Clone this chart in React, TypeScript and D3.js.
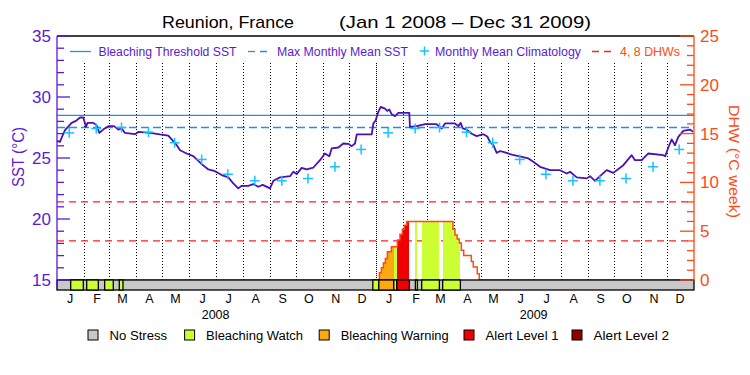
import React from "react";
import * as d3 from "d3";

// days counted from Jan 1 2008
const sstDays = [
  0, 3.4, 5.7, 9.2, 16.8, 21.8, 26.4, 30.2, 33.3, 35, 41.7, 45.5, 48.6, 53, 58.9, 65.4, 70.4, 74.2, 78,
  89.5, 93.3, 106.7, 118.2, 127.7, 131.6, 137.4, 141.2, 148.8, 156.4, 166, 173.7, 181.3, 189, 196.6,
  202.3, 208, 212, 219.5, 225.3, 231, 236, 244.4, 248.3, 256, 267.4, 271.2, 275, 280.8, 286.6, 294.2,
  301.8, 307.5, 312.5, 315.2, 322.8, 328.6, 334.3, 338.2, 342, 344, 361.2, 363, 365.7, 368.7, 371.5,
  376.4, 379, 381.4, 384, 387.9, 391.7, 404.3, 405, 412.8, 422.3, 435.7, 441.5, 445.3, 456.7, 460.5,
  463.3, 465.6, 470.2, 475.9, 481.6, 489.2, 493.8, 496.9, 500.7, 504.6, 508.4, 512.2, 521.8, 533.3,
  540.9, 546.6, 554.3, 565.8, 577.2, 585, 588.7, 596.4, 607.9, 611.6, 617.4, 623.1, 630.8, 638.4,
  649.9, 659.5, 663.3, 671, 678.6, 695.8, 698, 701.5, 705.4, 709.2, 713, 718.7, 726.4, 730,
];
const sstValues = [
  26.4, 26.32, 26.73, 27.28, 27.88, 28.04, 28.32, 28.32, 27.55, 27.88, 27.88, 27.69, 27.06, 27.33, 27.61,
  27.61, 27.33, 27.42, 27.06, 26.95, 27.14, 27.06, 26.93, 26.84, 26.52, 26.05, 25.64, 25.37, 25.15, 24.5,
  24.06, 23.92, 23.6, 23.41, 22.92, 22.51, 22.72, 22.72, 22.86, 22.64, 22.8, 22.51, 23.13, 23.41, 23.51,
  23.87, 23.68, 24.19, 24.06, 24.22, 24.82, 25.37, 25.15, 25.78, 25.86, 26.19, 26.16, 25.97, 26.19, 26.93,
  26.93, 27.83, 28.1, 28.78, 29.19, 29.05, 28.86, 28.97, 28.59, 28.43, 28.7, 28.7, 27.55, 27.61, 27.77,
  27.77, 27.42, 27.83, 27.83, 27.61, 27.88, 27.42, 27.33, 26.99, 26.79, 26.95, 26.76, 26.32, 26.05, 25.42,
  25.57, 25.51, 25.28, 25.1, 24.96, 24.69, 24.28, 24.0, 24.0, 23.73, 23.87, 23.41, 23.33, 23.51, 23.13,
  23.51, 24.0, 23.78, 24.41, 25.23, 24.82, 24.82, 25.37, 25.23, 25.15, 25.86, 26.52, 26.05, 26.73, 27.22,
  27.33, 27.14,
];

const climatology = [27.06, 27.42, 27.5, 27.12, 26.25, 24.88, 23.67, 23.13, 23.13, 23.32, 24.28, 25.7];
const mmm = 27.5;
const threshold = 28.5;
const dhwLevels = [4, 8];

const dhwDays = [0, 369.9, 372.2, 374.5, 376.8, 379.1, 383.7, 390.6, 393.6, 396.3, 398.6, 401.3, 454.4, 456.7, 459.2, 461.7, 464, 466.7, 475.5, 477.7, 482.3, 484.6, 731];
const dhwValues = [0, 0.75, 1.25, 1.75, 2.2, 2.9, 3.4, 4.1, 4.7, 5.2, 5.6, 6.0, 5.2, 4.6, 4.2, 3.8, 3.05, 2.5, 1.9, 1.33, 0.65, 0, 0];

// stress periods: start day, end day, level (1 watch, 2 warning, 3 alert 1, 4 alert 2)
const stressStart = [15.7, 34.1, 54.7, 71.5, 362.4, 369.3, 386.5, 389.9, 411.3, 418.5, 442.6];
const stressEnd = [30.2, 47.4, 64.6, 75.7, 369.3, 386.5, 389.9, 404.4, 413.6, 438.8, 462.9];
const stressLevel = [1, 1, 1, 1, 1, 2, 1, 3, 1, 1, 1];

const stressNames = ["No Stress", "Bleaching Watch", "Bleaching Warning", "Alert Level 1", "Alert Level 2"];
const stressColors = ["#c8c8c8", "#ccff33", "#fba910", "#f00000", "#900000"];

const monthLetters = ["J", "F", "M", "A", "M", "J", "J", "A", "S", "O", "N", "D"];
const years = [2008, 2009];
const sstTicks = [15, 20, 25, 30, 35];
const dhwTicks = [0, 5, 10, 15, 20, 25];

const PURPLE = "#5a1ad6";
const LINE = "#4c10b8";
const BLUE = "#2090f0";
const CYAN = "#14c4ff";
const RED = "#ff2020";
const ORANGE = "#ff4a14";
const FONT = "'Liberation Sans', Arial, sans-serif";

export default function App() {
  const left = 57, right = 694, top = 36, barTop = 280, bottom = 290;
  const start = new Date(2008, 0, 1);
  const day = (d: number) => d3.timeHour.offset(start, Math.round(d * 24));

  const x = d3.scaleTime().domain([start, new Date(2010, 0, 1)]).range([left, right]);
  const y = d3.scaleLinear().domain([15, 35]).range([barTop, top]);
  const yd = d3.scaleLinear().domain([0, 25]).range([barTop, top]);

  const sstLine = d3.line<number>()
    .x((d, i) => x(day(sstDays[i])))
    .y((d) => y(d));

  const dhwLine = d3.line<number>()
    .x((d, i) => x(day(dhwDays[i])))
    .y((d) => yd(d))
    .curve(d3.curveStepAfter);
  const dhwArea = d3.area<number>()
    .x((d, i) => x(day(dhwDays[i])))
    .y0(yd(0))
    .y1((d) => yd(d))
    .curve(d3.curveStepAfter);

  const months = d3.timeMonth.range(start, new Date(2010, 0, 1));
  const plus = 5;

  return (
    <svg width={750} height={375} style={{ position: "absolute", left: 0, top: 0, background: "#fff" }} fontFamily={FONT}>
      <text x={162} y={28} fontSize={17} textLength={132} lengthAdjust="spacingAndGlyphs">Reunion, France</text>
      <text x={339} y={28} fontSize={17} textLength={252} lengthAdjust="spacingAndGlyphs">(Jan 1 2008 – Dec 31 2009)</text>

      {/* month grid */}
      {months.slice(1).map((m, i) => (
        <line key={"g" + i} x1={Math.round(x(m)) + 0.5} x2={Math.round(x(m)) + 0.5} y1={63} y2={barTop} stroke="#000" strokeWidth={1}
          strokeDasharray={m.getMonth() === 0 ? "1,1" : "1,2"} shapeRendering="crispEdges" />
      ))}

      {/* reference lines */}
      <line x1={left} x2={right} y1={y(threshold)} y2={y(threshold)} stroke={BLUE} strokeWidth={1.3} />
      <line x1={left} x2={right} y1={y(mmm)} y2={y(mmm)} stroke={BLUE} strokeWidth={1.3} strokeDasharray="8,4" />
      {dhwLevels.map((v) => (
        <line key={"d" + v} x1={left} x2={right} y1={yd(v)} y2={yd(v)} stroke={RED} strokeWidth={1.3} strokeDasharray="7,5" />
      ))}

      {/* DHW fill coloured by stress level */}
      <defs>
        <clipPath id="dhwclip">
          <path d={dhwArea(dhwValues) || ""} />
        </clipPath>
      </defs>
      <g clipPath="url(#dhwclip)">
        {stressStart.map((s, i) => (
          <rect key={"f" + i} x={x(day(s))} width={x(day(stressEnd[i])) - x(day(s))} y={yd(10)} height={yd(0) - yd(10)}
            fill={stressColors[stressLevel[i]]} shapeRendering="crispEdges" />
        ))}
      </g>
      <path d={dhwLine(dhwValues) || ""} fill="none" stroke={ORANGE} strokeWidth={1.5} />

      {/* SST */}
      <path d={sstLine(sstValues) || ""} fill="none" stroke={LINE} strokeWidth={1.8} strokeLinejoin="round" />
      {years.map((yr) =>
        climatology.map((v, i) => {
          const cx = x(new Date(yr, i, 15));
          const cy = y(v);
          return (
            <g key={"c" + yr + i} stroke={CYAN} strokeWidth={1.5}>
              <line x1={cx - plus} x2={cx + plus} y1={cy} y2={cy} />
              <line x1={cx} x2={cx} y1={cy - plus} y2={cy + plus} />
            </g>
          );
        })
      )}

      {/* stress bar */}
      <rect x={left} y={barTop} width={right - left} height={bottom - barTop} fill={stressColors[0]} stroke="#000" strokeWidth={1.3} />
      {stressStart.map((s, i) => (
        <rect key={"s" + i} x={x(day(s))} width={x(day(stressEnd[i])) - x(day(s))} y={barTop} height={bottom - barTop}
          fill={stressColors[stressLevel[i]]} stroke="#000" strokeWidth={1.3} />
      ))}

      {/* frame */}
      <line x1={left} x2={right} y1={top} y2={top} stroke="#000" strokeWidth={1.3} />

      {/* left axis */}
      <line x1={left} x2={left} y1={top} y2={bottom} stroke={PURPLE} strokeWidth={1.3} />
      {d3.range(15, 36).map((v) => (
        <line key={"lt" + v} x1={left} x2={left + (v % 5 === 0 ? 13 : 7)} y1={y(v)} y2={y(v)} stroke={PURPLE} strokeWidth={1.3} />
      ))}
      {sstTicks.map((v) => (
        <text key={"ll" + v} x={51} y={y(v) + 6} fontSize={17} fill={PURPLE} textAnchor="end">{v}</text>
      ))}
      <text transform="translate(24,187) rotate(-90)" fontSize={17} fill={PURPLE}
        textLength={60} lengthAdjust="spacingAndGlyphs">SST (°C)</text>

      {/* right axis */}
      <line x1={right} x2={right} y1={top} y2={barTop} stroke={ORANGE} strokeWidth={1.3} />
      {d3.range(0, 26).map((v) => (
        <line key={"rt" + v} x1={right} x2={right - (v % 5 === 0 ? 14 : 7)} y1={yd(v)} y2={yd(v)} stroke={ORANGE} strokeWidth={1.3} />
      ))}
      {dhwTicks.map((v) => (
        <text key={"rl" + v} x={700} y={yd(v) + 6} fontSize={17} fill={ORANGE}>{v}</text>
      ))}
      <text transform="translate(729,105) rotate(90)" fontSize={15} fill={ORANGE}
        textLength={113} lengthAdjust="spacingAndGlyphs">DHW (°C week)</text>

      {/* x labels */}
      {months.map((m, i) => (
        <text key={"ml" + i} x={x(new Date(m.getFullYear(), m.getMonth(), 16))} y={303} fontSize={12.5} textAnchor="middle">
          {monthLetters[m.getMonth()]}
        </text>
      ))}
      {years.map((yr) => (
        <text key={"y" + yr} x={x(new Date(yr, 6, 1))} y={318.5} fontSize={12.5} textAnchor="middle">{yr}</text>
      ))}

      {/* top legend */}
      <line x1={70} x2={91} y1={51.5} y2={51.5} stroke={BLUE} strokeWidth={1.3} />
      <text x={98.5} y={55.5} fontSize={12.5} fill={PURPLE} textLength={138} lengthAdjust="spacingAndGlyphs">Bleaching Threshold SST</text>
      <line x1={248} x2={272} y1={51.5} y2={51.5} stroke={BLUE} strokeWidth={1.3} strokeDasharray="7,5" />
      <text x={277} y={55.5} fontSize={12.5} fill={PURPLE} textLength={131} lengthAdjust="spacingAndGlyphs">Max Monthly Mean SST</text>
      <g stroke={CYAN} strokeWidth={1.5}>
        <line x1={420} x2={429} y1={51} y2={51} />
        <line x1={424.5} x2={424.5} y1={46.5} y2={55.5} />
      </g>
      <text x={435} y={55.5} fontSize={12.5} fill={PURPLE} textLength={146} lengthAdjust="spacingAndGlyphs">Monthly Mean Climatology</text>
      <line x1={592} x2={614} y1={51.5} y2={51.5} stroke={RED} strokeWidth={1.3} strokeDasharray="7,5" />
      <text x={620} y={55.5} fontSize={12.5} fill={ORANGE} textLength={60} lengthAdjust="spacingAndGlyphs">4, 8 DHWs</text>

      {/* bottom legend */}
      {stressNames.map((n, i) => {
        const bx = [88, 184.6, 319.2, 464, 572][i];
        const tw = [57.7, 97, 108, 73, 75.5][i];
        return (
          <g key={"lg" + i}>
            <rect x={bx} y={330} width={10} height={10} fill={stressColors[i]} stroke="#000" strokeWidth={1} />
            <text x={bx + 21.5} y={340} fontSize={12.5} textLength={tw} lengthAdjust="spacingAndGlyphs">{n}</text>
          </g>
        );
      })}
    </svg>
  );
}
